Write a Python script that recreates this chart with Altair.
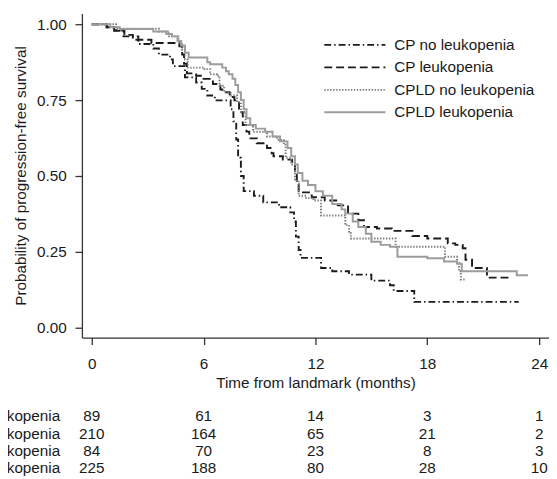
import altair as alt
import pandas as pd

series = ["CP no leukopenia", "CP leukopenia", "CPLD no leukopenia", "CPLD leukopenia"]

cp_no_t = [0, 0.8, 1.2, 1.7, 2.5, 3.3, 3.6, 4.2, 4.35, 5.0, 5.6, 5.9, 6.2, 6.6, 7.45, 7.6, 7.75, 7.85, 8.0, 8.15,
           8.7, 9.2, 10.05, 10.65, 10.85, 10.95, 11.1, 11.2, 12.3, 12.9, 13.8, 15.0, 16.0, 16.2, 17.3, 22.9]
cp_no_s = [1.0, 0.99, 0.978, 0.96, 0.935, 0.92, 0.90, 0.884, 0.862, 0.825, 0.808, 0.787, 0.765, 0.749, 0.72, 0.68,
           0.62, 0.56, 0.50, 0.45, 0.435, 0.413, 0.397, 0.38, 0.35, 0.30, 0.256, 0.23, 0.197, 0.186, 0.175, 0.155,
           0.14, 0.121, 0.085, 0.085]

cp_t = [0, 0.8, 1.2, 1.75, 2.2, 3.2, 4.7, 4.85, 4.95, 5.1, 5.6, 6.0, 6.5, 6.9, 7.0, 7.4, 7.65, 7.9, 8.1, 8.3,
        8.45, 8.85, 9.4, 9.65, 9.75, 10.25, 10.75, 10.9, 11.0, 11.1, 11.8, 12.5, 13.2, 13.75, 14.3, 14.6, 15.3,
        16.1, 17.2, 18.0, 19.1, 19.5, 19.9, 20.05, 20.4, 21.2, 22.5]
cp_s = [1.0, 0.99, 0.98, 0.965, 0.949, 0.938, 0.927, 0.90, 0.87, 0.838, 0.83, 0.82, 0.803, 0.785, 0.776, 0.76,
        0.749, 0.71, 0.668, 0.646, 0.624, 0.608, 0.592, 0.575, 0.565, 0.554, 0.538, 0.505, 0.473, 0.446, 0.43,
        0.419, 0.403, 0.376, 0.354, 0.332, 0.327, 0.319, 0.302, 0.294, 0.278, 0.273, 0.262, 0.224, 0.197, 0.165,
        0.165]

cpld_no_t = [0, 1.3, 3.6, 4.15, 4.65, 4.85, 5.0, 5.15, 6.05, 6.35, 6.7, 6.85, 7.1, 7.45, 7.8, 8.0, 8.25, 8.65,
             9.4, 9.95, 10.3, 10.4, 10.7, 10.9, 11.1, 11.5, 11.9, 12.3, 13.6, 13.8, 13.9, 16.3, 18.95, 19.6, 19.7,
             19.8, 20.0]
cpld_no_s = [1.0, 0.985, 0.976, 0.96, 0.938, 0.916, 0.884, 0.857, 0.852, 0.835, 0.83, 0.797, 0.776, 0.765, 0.743,
             0.711, 0.668, 0.646, 0.63, 0.619, 0.603, 0.56, 0.538, 0.484, 0.435, 0.427, 0.419, 0.37, 0.338, 0.311,
             0.294, 0.267, 0.234, 0.213, 0.186, 0.159, 0.159]

cpld_t = [0, 1.0, 1.5, 3.3, 4.0, 4.3, 4.6, 4.8, 5.0, 5.2, 6.2, 6.35, 7.0, 7.2, 7.35, 7.55, 7.7, 7.85, 8.0, 8.15,
          8.3, 8.5, 8.8, 9.3, 9.7, 10.1, 10.5, 10.7, 10.9, 11.05, 11.3, 11.6, 12.0, 12.4, 12.9, 13.4, 13.6, 14.0,
          14.3, 14.7, 15.0, 15.5, 16.0, 16.4, 18.0, 18.9, 19.6, 19.85, 22.8, 23.4]
cpld_s = [1.0, 0.99, 0.984, 0.976, 0.968, 0.96, 0.945, 0.93, 0.906, 0.89, 0.875, 0.868, 0.857, 0.845, 0.835, 0.82,
          0.80, 0.776, 0.75, 0.72, 0.69, 0.668, 0.656, 0.646, 0.63, 0.614, 0.592, 0.565, 0.538, 0.51, 0.484, 0.47,
          0.45, 0.435, 0.408, 0.39, 0.376, 0.35, 0.332, 0.31, 0.283, 0.273, 0.267, 0.234, 0.229, 0.218, 0.211,
          0.186, 0.173, 0.173]

risk_times = [0, 6, 12, 18, 24]
risk_cp_no = [89, 61, 14, 3, 1]
risk_cp = [210, 164, 65, 21, 2]
risk_cpld_no = [84, 70, 23, 8, 3]
risk_cpld = [225, 188, 80, 28, 10]

curves = [(cp_no_t, cp_no_s), (cp_t, cp_s), (cpld_no_t, cpld_no_s), (cpld_t, cpld_s)]
risks = [risk_cp_no, risk_cp, risk_cpld_no, risk_cpld]

rows = []
for name, (ts, ss) in zip(series, curves):
    for i, (t, s) in enumerate(zip(ts, ss)):
        rows.append({"series": name, "t": t, "s": s, "i": i})
df = pd.DataFrame(rows)

FONT = "Liberation Sans"
FS = 15.5
TXT = "#1a1a1a"

colors = ["#1c1c1c", "#1c1c1c", "#7a7a7a", "#9c9c9c"]
dashes = [[7, 3, 1.5, 3], [8, 4], [1.4, 1.6], [1, 0]]
widths = [1.9, 2.0, 1.3, 2.0]

color_enc = alt.Color("series:N", scale=alt.Scale(domain=series, range=colors), legend=None)
dash_enc = alt.StrokeDash("series:N", scale=alt.Scale(domain=series, range=dashes), legend=None)
width_enc = alt.StrokeWidth("series:O", scale=alt.Scale(domain=series, range=widths), legend=None)

xscale = alt.Scale(domain=[-0.529, 24.529], nice=False, zero=False)
yscale = alt.Scale(domain=[-0.0325, 1.0357], nice=False, zero=False)

lines = alt.Chart(df).mark_line(interpolate="step-after").encode(
    x=alt.X("t:Q", scale=xscale,
            axis=alt.Axis(values=risk_times, format="d", title="Time from landmark (months)",
                          tickSize=7, labelPadding=12, titlePadding=4)),
    y=alt.Y("s:Q", scale=yscale,
            axis=alt.Axis(values=[0, 0.25, 0.5, 0.75, 1.0], format=".2f",
                          title="Probability of progression-free survival",
                          tickSize=7, labelPadding=9, titlePadding=8)),
    color=color_enc,
    strokeDash=dash_enc,
    strokeWidth=width_enc,
    order="i:Q",
)

layers = [lines]

# legend (pixel layout inside the plot area)
leg_y = [32.0, 54.8, 77.6, 100.4]
for k, name in enumerate(series):
    d = pd.DataFrame({"series": [name]})
    layers.append(alt.Chart(d).mark_rule().encode(
        x=alt.value(246), x2=alt.value(308), y=alt.value(leg_y[k]),
        color=color_enc, strokeDash=dash_enc, strokeWidth=width_enc))
    layers.append(alt.Chart(d).mark_text(align="left", baseline="middle", font=FONT,
                                         fontSize=FS, color=TXT).encode(
        x=alt.value(317), y=alt.value(leg_y[k]), text="series:N"))

# numbers at risk table
tab_y = [409, 426.5, 444, 461.5]
for k, name in enumerate(series):
    d = pd.DataFrame({"series": name, "t": risk_times, "n": risks[k]})
    layers.append(alt.Chart(d).mark_text(align="center", baseline="middle", font=FONT,
                                         fontSize=FS, color=TXT).encode(
        x=alt.X("t:Q", scale=xscale), y=alt.value(tab_y[k]), text="n:Q"))
    layers.append(alt.Chart(pd.DataFrame({"series": [name]})).mark_text(
        align="right", baseline="middle", font=FONT, fontSize=FS, color=TXT).encode(
        x=alt.value(-22), y=alt.value(tab_y[k]), text="series:N"))

chart = alt.layer(*layers).properties(
    width=474, height=329,
    autosize=alt.AutoSizeParams(type="none"),
    padding={"left": 75, "top": 2, "right": 0, "bottom": 138},
).configure_view(stroke=None).configure_axis(
    grid=False, labelFont=FONT, titleFont=FONT, labelFontSize=FS, titleFontSize=FS,
    titleFontWeight="normal", labelColor=TXT, titleColor=TXT,
    domainColor="#333333", tickColor="#333333", domainWidth=1.3, tickWidth=1.3,
)

chart.save("out.html", embed_options={"renderer": "svg", "actions": False})
